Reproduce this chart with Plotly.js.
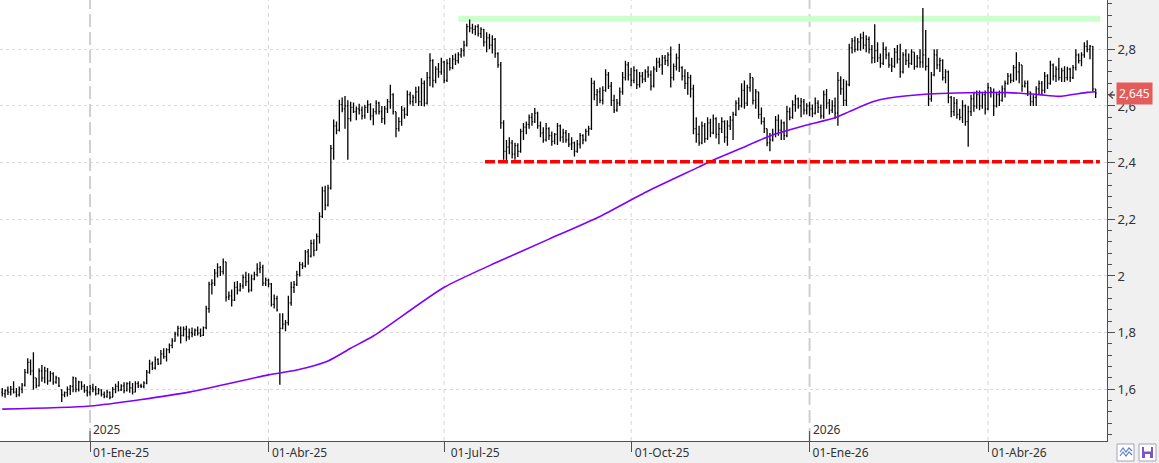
<!DOCTYPE html>
<html>
<head>
<meta charset="utf-8">
<script src="https://cdn.plot.ly/plotly-3.0.1.min.js"></script>
<style>html,body{margin:0;padding:0;background:#f0f0f0;}#chart{width:1159px;height:463px;}</style>
</head>
<body>
<div id="chart"></div>
<script>
// ---- DATA ----
const startDate = '2024-11-14';
const holidays = ['2024-12-24','2024-12-25','2024-12-26','2025-01-01','2025-04-18','2025-04-21','2025-05-01',
  '2025-12-24','2025-12-25','2025-12-26','2026-01-01','2026-04-03','2026-04-06','2026-05-01'];

const open = [
1.590,1.585,1.595,1.590,1.600,1.590,1.580,1.600,1.615,1.660,
1.695,1.665,1.640,1.612,1.665,1.640,1.665,1.630,1.655,1.625,
1.640,1.598,1.580,1.588,1.600,1.610,1.640,1.600,1.625,1.610,
1.595,1.590,1.605,1.600,1.585,1.598,1.582,1.575,1.590,1.572,
1.600,1.610,1.598,1.612,1.595,1.620,1.605,1.590,1.620,1.612,
1.610,1.622,1.660,1.690,1.675,1.705,1.690,1.725,1.715,1.740,
1.755,1.770,1.795,1.815,1.790,1.812,1.785,1.800,1.795,1.808,
1.798,1.790,1.818,1.885,1.970,1.975,2.010,2.030,2.015,2.050,
1.925,1.930,1.915,1.960,1.950,1.965,1.995,1.980,1.950,1.990,
2.005,2.025,2.030,1.975,1.985,1.972,1.900,1.920,1.800,1.815,
1.830,1.835,1.905,1.960,1.970,2.005,2.040,2.035,2.085,2.070,
2.115,2.090,2.140,2.210,2.300,2.250,2.310,2.450,2.530,2.515,
2.605,2.590,2.600,2.555,2.595,2.580,2.590,2.585,2.565,2.595,
2.605,2.565,2.580,2.610,2.580,2.555,2.590,2.615,2.640,2.580,
2.520,2.545,2.585,2.570,2.640,2.615,2.630,2.650,2.615,2.680,
2.610,2.700,2.760,2.690,2.730,2.720,2.755,2.690,2.750,2.735,
2.765,2.760,2.780,2.795,2.815,2.880,2.875,2.870,2.880,2.855,
2.870,2.825,2.840,2.815,2.835,2.785,2.745,2.540,2.440,2.455,
2.470,2.430,2.460,2.440,2.510,2.525,2.535,2.560,2.545,2.575,
2.530,2.505,2.480,2.520,2.495,2.475,2.500,2.530,2.490,2.505,
2.480,2.465,2.470,2.440,2.465,2.495,2.480,2.510,2.520,2.680,
2.640,2.650,2.620,2.655,2.710,2.670,2.620,2.585,2.610,2.650,
2.700,2.745,2.710,2.690,2.725,2.675,2.705,2.695,2.720,2.710,
2.670,2.730,2.755,2.745,2.770,2.760,2.780,2.700,2.740,2.770,
2.735,2.705,2.680,2.700,2.660,2.520,2.500,2.470,2.530,2.485,
2.540,2.505,2.555,2.500,2.520,2.545,2.490,2.530,2.550,2.570,
2.610,2.600,2.655,2.610,2.665,2.700,2.620,2.650,2.570,2.545,
2.520,2.470,2.480,2.500,2.550,2.515,2.540,2.495,2.580,2.560,
2.605,2.625,2.600,2.615,2.585,2.600,2.590,2.575,2.610,2.595,
2.565,2.640,2.610,2.585,2.600,2.575,2.690,2.660,2.620,2.675,
2.805,2.830,2.800,2.825,2.840,2.815,2.835,2.800,2.770,2.795,
2.770,2.750,2.800,2.780,2.745,2.740,2.790,2.765,2.720,2.780,
2.760,2.750,2.790,2.740,2.770,2.755,2.780,2.740,2.625,2.710,
2.780,2.745,2.760,2.700,2.720,2.630,2.580,2.610,2.570,2.560,
2.600,2.545,2.580,2.625,2.600,2.640,2.600,2.640,2.590,2.665,
2.650,2.600,2.640,2.620,2.660,2.680,2.705,2.690,2.735,2.720,
2.745,2.670,2.680,2.650,2.615,2.630,2.660,2.680,2.655,2.705,
2.680,2.745,2.705,2.730,2.700,2.725,2.700,2.730,2.700,2.735,
2.780,2.760,2.780,2.810,2.800,2.810,2.660];

const high = [
1.605,1.600,1.610,1.612,1.628,1.605,1.610,1.622,1.672,1.710,
1.705,1.731,1.640,1.674,1.686,1.680,1.675,1.665,1.660,1.648,
1.642,1.600,1.592,1.610,1.615,1.645,1.642,1.630,1.628,1.618,
1.612,1.615,1.620,1.612,1.605,1.600,1.592,1.598,1.592,1.608,
1.620,1.628,1.618,1.625,1.625,1.628,1.622,1.628,1.628,1.620,
1.628,1.668,1.704,1.698,1.716,1.710,1.739,1.745,1.745,1.762,
1.780,1.803,1.824,1.822,1.822,1.824,1.815,1.818,1.815,1.822,
1.815,1.822,1.895,1.980,1.988,2.025,2.045,2.035,2.062,2.050,
1.945,1.952,1.980,1.982,1.975,2.005,2.015,2.010,2.005,2.015,
2.045,2.050,2.040,1.995,1.990,1.975,1.935,1.930,1.868,1.868,
1.845,1.930,1.980,1.982,2.018,2.050,2.048,2.092,2.095,2.128,
2.130,2.150,2.225,2.315,2.318,2.322,2.462,2.552,2.545,2.622,
2.630,2.635,2.620,2.615,2.612,2.598,2.608,2.598,2.604,2.620,
2.610,2.592,2.620,2.615,2.600,2.600,2.625,2.675,2.645,2.580,
2.560,2.600,2.595,2.655,2.650,2.640,2.668,2.670,2.698,2.690,
2.720,2.786,2.765,2.740,2.752,2.770,2.760,2.765,2.770,2.780,
2.785,2.790,2.805,2.830,2.890,2.905,2.890,2.885,2.888,2.878,
2.872,2.860,2.855,2.850,2.840,2.790,2.755,2.550,2.480,2.490,
2.480,2.470,2.468,2.520,2.540,2.545,2.570,2.575,2.593,2.580,
2.545,2.525,2.540,2.525,2.510,2.505,2.540,2.535,2.520,2.515,
2.505,2.490,2.475,2.480,2.505,2.500,2.520,2.530,2.700,2.690,
2.660,2.665,2.670,2.730,2.720,2.685,2.640,2.625,2.665,2.720,
2.760,2.755,2.735,2.740,2.730,2.720,2.720,2.730,2.740,2.725,
2.740,2.770,2.770,2.780,2.780,2.790,2.810,2.750,2.785,2.820,
2.740,2.730,2.720,2.710,2.675,2.560,2.530,2.545,2.540,2.560,
2.555,2.570,2.560,2.540,2.560,2.550,2.550,2.565,2.580,2.620,
2.630,2.680,2.690,2.675,2.716,2.700,2.660,2.650,2.595,2.560,
2.520,2.505,2.520,2.565,2.570,2.552,2.545,2.600,2.595,2.620,
2.640,2.630,2.628,2.625,2.610,2.615,2.605,2.630,2.620,2.605,
2.655,2.660,2.625,2.620,2.630,2.720,2.705,2.695,2.690,2.820,
2.840,2.845,2.840,2.856,2.862,2.850,2.845,2.815,2.888,2.825,
2.785,2.825,2.810,2.790,2.770,2.805,2.815,2.820,2.790,2.800,
2.785,2.800,2.790,2.780,2.800,2.946,2.868,2.770,2.720,2.800,
2.800,2.770,2.765,2.730,2.725,2.635,2.632,2.625,2.590,2.620,
2.605,2.600,2.640,2.650,2.655,2.655,2.650,2.655,2.682,2.665,
2.662,2.650,2.655,2.672,2.690,2.716,2.715,2.745,2.790,2.755,
2.745,2.690,2.690,2.650,2.640,2.670,2.690,2.688,2.720,2.712,
2.760,2.750,2.740,2.770,2.735,2.740,2.738,2.735,2.745,2.800,
2.785,2.790,2.825,2.832,2.815,2.812,2.660];

const low = [
1.575,1.570,1.580,1.578,1.585,1.572,1.575,1.586,1.610,1.655,
1.650,1.598,1.604,1.610,1.627,1.621,1.616,1.627,1.616,1.620,
1.608,1.555,1.572,1.575,1.580,1.590,1.590,1.592,1.598,1.588,
1.575,1.578,1.590,1.578,1.582,1.575,1.568,1.570,1.565,1.572,
1.586,1.592,1.594,1.586,1.592,1.588,1.582,1.590,1.605,1.605,
1.604,1.618,1.655,1.668,1.670,1.686,1.688,1.708,1.698,1.727,
1.745,1.768,1.786,1.762,1.786,1.770,1.775,1.784,1.788,1.790,
1.785,1.788,1.812,1.870,1.935,1.965,1.995,2.000,2.005,1.910,
1.915,1.892,1.912,1.935,1.945,1.955,1.965,1.942,1.945,1.985,
1.998,2.010,1.965,1.965,1.960,1.892,1.885,1.875,1.616,1.812,
1.805,1.825,1.895,1.940,1.965,1.998,2.025,2.030,2.040,2.065,
2.070,2.090,2.115,2.205,2.232,2.245,2.305,2.410,2.500,2.510,
2.578,2.520,2.410,2.545,2.575,2.550,2.570,2.552,2.555,2.575,
2.550,2.532,2.570,2.570,2.540,2.535,2.575,2.590,2.570,2.490,
2.510,2.530,2.555,2.565,2.605,2.600,2.610,2.600,2.600,2.598,
2.605,2.670,2.665,2.680,2.700,2.710,2.680,2.685,2.725,2.730,
2.745,2.750,2.770,2.775,2.810,2.860,2.855,2.850,2.845,2.840,
2.810,2.790,2.800,2.785,2.770,2.735,2.520,2.410,2.408,2.430,
2.415,2.410,2.420,2.435,2.480,2.500,2.520,2.530,2.540,2.520,
2.490,2.470,2.475,2.480,2.460,2.465,2.462,2.475,2.470,2.470,
2.455,2.445,2.422,2.435,2.450,2.465,2.475,2.495,2.515,2.620,
2.600,2.610,2.605,2.650,2.660,2.600,2.575,2.580,2.600,2.640,
2.690,2.690,2.670,2.680,2.660,2.665,2.680,2.685,2.700,2.655,
2.665,2.720,2.735,2.710,2.745,2.740,2.665,2.690,2.725,2.720,
2.690,2.660,2.640,2.630,2.500,2.470,2.460,2.465,2.470,2.480,
2.490,2.500,2.485,2.465,2.505,2.470,2.460,2.515,2.480,2.565,
2.585,2.595,2.590,2.600,2.650,2.605,2.590,2.555,2.535,2.505,
2.458,2.440,2.475,2.490,2.495,2.480,2.480,2.490,2.550,2.555,
2.580,2.590,2.560,2.570,2.570,2.565,2.560,2.570,2.575,2.555,
2.555,2.590,2.570,2.575,2.555,2.530,2.640,2.600,2.600,2.670,
2.785,2.790,2.795,2.795,2.800,2.790,2.785,2.750,2.752,2.755,
2.735,2.745,2.765,2.735,2.720,2.735,2.750,2.700,2.715,2.745,
2.735,2.745,2.728,2.735,2.735,2.735,2.725,2.600,2.615,2.705,
2.730,2.720,2.690,2.680,2.610,2.560,2.565,2.555,2.550,2.540,
2.530,2.456,2.565,2.580,2.590,2.585,2.590,2.570,2.585,2.630,
2.565,2.595,2.600,2.615,2.630,2.675,2.680,2.685,2.690,2.680,
2.650,2.665,2.635,2.600,2.600,2.600,2.640,2.640,2.645,2.660,
2.675,2.690,2.685,2.690,2.685,2.685,2.690,2.685,2.695,2.725,
2.750,2.740,2.770,2.790,2.765,2.650,2.628];

const close = [
1.585,1.595,1.590,1.600,1.590,1.580,1.605,1.615,1.660,1.695,
1.665,1.640,1.612,1.665,1.640,1.665,1.630,1.655,1.625,1.640,
1.612,1.580,1.588,1.600,1.610,1.640,1.600,1.625,1.610,1.595,
1.590,1.605,1.600,1.585,1.598,1.582,1.575,1.590,1.572,1.600,
1.610,1.598,1.612,1.595,1.620,1.605,1.590,1.620,1.612,1.610,
1.622,1.660,1.690,1.675,1.705,1.690,1.725,1.715,1.740,1.755,
1.770,1.795,1.815,1.790,1.812,1.785,1.800,1.795,1.808,1.798,
1.790,1.818,1.885,1.970,1.975,2.010,2.030,2.015,2.050,1.925,
1.930,1.915,1.960,1.950,1.965,1.995,1.980,1.950,1.990,2.005,
2.025,2.030,1.975,1.985,1.972,1.900,1.920,1.880,1.815,1.830,
1.835,1.905,1.960,1.970,2.005,2.040,2.035,2.085,2.070,2.115,
2.090,2.140,2.210,2.300,2.250,2.310,2.450,2.530,2.515,2.605,
2.590,2.600,2.555,2.595,2.580,2.590,2.585,2.565,2.595,2.605,
2.565,2.580,2.610,2.580,2.555,2.590,2.615,2.640,2.580,2.520,
2.545,2.585,2.570,2.640,2.615,2.630,2.650,2.615,2.680,2.610,
2.700,2.760,2.690,2.730,2.720,2.755,2.690,2.750,2.735,2.765,
2.760,2.780,2.795,2.815,2.880,2.875,2.870,2.880,2.855,2.870,
2.825,2.840,2.815,2.835,2.785,2.745,2.540,2.440,2.455,2.470,
2.430,2.460,2.440,2.510,2.525,2.535,2.560,2.545,2.575,2.530,
2.505,2.480,2.520,2.495,2.475,2.500,2.530,2.490,2.505,2.480,
2.465,2.470,2.440,2.465,2.495,2.480,2.510,2.520,2.680,2.640,
2.650,2.620,2.655,2.710,2.670,2.620,2.585,2.610,2.650,2.700,
2.745,2.710,2.690,2.725,2.675,2.705,2.695,2.720,2.710,2.670,
2.730,2.755,2.745,2.770,2.760,2.780,2.700,2.740,2.770,2.735,
2.705,2.680,2.700,2.660,2.520,2.500,2.470,2.530,2.485,2.540,
2.505,2.555,2.500,2.520,2.545,2.490,2.530,2.550,2.570,2.610,
2.600,2.655,2.610,2.665,2.700,2.620,2.650,2.570,2.545,2.520,
2.470,2.480,2.500,2.550,2.515,2.540,2.495,2.580,2.560,2.605,
2.625,2.600,2.615,2.585,2.600,2.590,2.575,2.610,2.595,2.565,
2.640,2.610,2.585,2.600,2.575,2.690,2.660,2.620,2.675,2.805,
2.830,2.800,2.825,2.840,2.815,2.835,2.800,2.770,2.795,2.770,
2.750,2.800,2.780,2.745,2.740,2.790,2.765,2.720,2.780,2.760,
2.750,2.790,2.740,2.770,2.755,2.780,2.740,2.625,2.710,2.780,
2.745,2.760,2.700,2.720,2.630,2.580,2.610,2.570,2.560,2.600,
2.545,2.580,2.625,2.600,2.640,2.600,2.640,2.590,2.665,2.650,
2.600,2.640,2.620,2.660,2.680,2.705,2.690,2.735,2.720,2.745,
2.670,2.680,2.650,2.615,2.630,2.660,2.680,2.655,2.705,2.680,
2.745,2.705,2.730,2.700,2.725,2.700,2.730,2.700,2.735,2.780,
2.760,2.780,2.810,2.800,2.810,2.660,2.645];

// moving average read at sample bars (bar index -> value)
const maIdx = [0, 31, 66, 94, 104, 115, 123, 131, 156, 175, 193, 211, 228, 246, 252, 260, 271, 283, 294, 299, 307, 313, 327, 337, 355, 366, 373, 383, 386];
const maVal = [1.530, 1.541, 1.590, 1.651, 1.668, 1.700, 1.745, 1.788, 1.960, 2.050, 2.130, 2.210, 2.300, 2.385, 2.414, 2.447, 2.494, 2.530, 2.558, 2.580, 2.614, 2.628, 2.642, 2.646, 2.647, 2.640, 2.634, 2.648, 2.650];

const resistanceBand = [2.897, 2.918];
const resistanceSpan = ['2025-07-08', '2026-05-29 15:00'];
const supportLevel = 2.403;
const supportSpan = ['2025-07-21 10:00', '2026-05-29 12:00'];
const lastPrice = 2.645;
const lastLabel = '2,645';

const tickDates = ['2025-01-02','2025-04-01','2025-07-01','2025-10-01','2026-01-02','2026-04-01'];
const tickLabels = ['01-Ene-25','01-Abr-25','01-Jul-25','01-Oct-25','01-Ene-26','01-Abr-26'];
const yearDates = ['2025-01-02','2026-01-02'];
const yearLabels = ['2025','2026'];

// ---- trading calendar (weekdays minus market holidays) ----
function tradingDates(start, n) {
  const hol = new Set(holidays);
  const out = [];
  const d = new Date(start + 'T00:00:00Z');
  while (out.length < n) {
    const wd = d.getUTCDay();
    const s = d.toISOString().slice(0, 10);
    if (wd !== 0 && wd !== 6 && !hol.has(s)) out.push(s);
    d.setUTCDate(d.getUTCDate() + 1);
  }
  return out;
}
const dates = tradingDates(startDate, close.length);
const maDates = maIdx.map(i => dates[i]);

// ---- layout helpers (pixel -> paper) ----
const PW = 1107, PH = 441;
const px = X => X / PW;
const py = Y => (PH - Y) / PH;

const traces = [
  {
    type: 'ohlc', x: dates, open: open, high: high, low: low, close: close,
    increasing: {line: {color: '#000000', width: 1.3}},
    decreasing: {line: {color: '#000000', width: 1.3}},
    tickwidth: 0.35, hoverinfo: 'skip', showlegend: false
  },
  {
    type: 'scatter', mode: 'lines', x: maDates, y: maVal,
    line: {color: '#8000ff', width: 1.6, shape: 'spline', smoothing: 0.6},
    hoverinfo: 'skip', showlegend: false
  }
];

const shapes = [];
// vertical quarter gridlines
tickDates.forEach((d, k) => {
  const isYear = yearDates.includes(d);
  shapes.push({type: 'line', xref: 'x', yref: 'paper', x0: d, x1: d, y0: 0, y1: 1, layer: 'below',
    line: {color: isYear ? '#cfcfcf' : '#d6d6d6', width: isYear ? 2 : 1, dash: isYear ? '13px,5px' : '4px,4px'}});
});
// year ticks above axis
yearDates.forEach(d => {
  shapes.push({type: 'line', xref: 'x', yref: 'paper', x0: d, x1: d, y0: 0, y1: 10 / PH,
    line: {color: '#505050', width: 1}});
});
// resistance band
shapes.push({type: 'rect', xref: 'x', yref: 'y', x0: resistanceSpan[0], x1: resistanceSpan[1],
  y0: resistanceBand[0], y1: resistanceBand[1], fillcolor: '#ccffcc', line: {width: 0}, layer: 'below'});
// support line
shapes.push({type: 'line', xref: 'x', yref: 'y', x0: supportSpan[0], x1: supportSpan[1],
  y0: supportLevel, y1: supportLevel, line: {color: '#ff0000', width: 3.5, dash: '10px,3px'}, layer: 'above'});
// last price arrow marker
const ay = 95;
shapes.push({type: 'path', xref: 'paper', yref: 'paper',
  path: `M ${px(1113)} ${py(ay-3.5)} L ${px(1109)} ${py(ay)} L ${px(1113)} ${py(ay+3.5)} M ${px(1109)} ${py(ay)} L ${px(1115)} ${py(ay)}`,
  line: {color: '#505050', width: 1.3}});
// bottom-right icons
shapes.push({type: 'rect', xref: 'paper', yref: 'paper', x0: px(1117), x1: px(1134), y0: py(444), y1: py(461),
  fillcolor: '#ffffff', line: {color: '#a0a8b0', width: 1}});
shapes.push({type: 'path', xref: 'paper', yref: 'paper',
  path: `M ${px(1120)} ${py(452)} L ${px(1123)} ${py(448)} L ${px(1126)} ${py(452)} L ${px(1129)} ${py(448)} L ${px(1132)} ${py(451)} M ${px(1120)} ${py(456)} L ${px(1123)} ${py(452)} L ${px(1126)} ${py(456)} L ${px(1129)} ${py(452)} L ${px(1132)} ${py(455)}`,
  line: {color: '#5b7fc9', width: 1.2}});
shapes.push({type: 'rect', xref: 'paper', yref: 'paper', x0: px(1139), x1: px(1156), y0: py(444), y1: py(461),
  fillcolor: '#ffffff', line: {color: '#a0a8b0', width: 1}});
shapes.push({type: 'rect', xref: 'paper', yref: 'paper', x0: px(1142), x1: px(1153), y0: py(447), y1: py(458),
  fillcolor: '#7d55c7', line: {width: 0}});
shapes.push({type: 'rect', xref: 'paper', yref: 'paper', x0: px(1144), x1: px(1151), y0: py(447), y1: py(451.5),
  fillcolor: '#ffffff', line: {width: 0}});
shapes.push({type: 'rect', xref: 'paper', yref: 'paper', x0: px(1145), x1: px(1150), y0: py(454), y1: py(458),
  fillcolor: '#ffffff', line: {width: 0}});

const annotations = [];
yearDates.forEach((d, k) => {
  annotations.push({x: d, xref: 'x', y: 0, yref: 'paper', yanchor: 'bottom', xanchor: 'left',
    xshift: 1, yshift: 1, text: yearLabels[k], showarrow: false,
    font: {family: 'Noto Sans, sans-serif', size: 12, color: '#333333'}});
});
annotations.push({x: px(1116), xref: 'paper', y: lastPrice, yref: 'y', xanchor: 'left', yanchor: 'middle',
  text: lastLabel, showarrow: false, bgcolor: '#e35b5b', borderpad: 2,
  font: {family: 'Noto Sans, sans-serif', size: 12, color: '#ffffff'}});

const layout = {
  width: 1159, height: 463,
  margin: {l: 0, r: 52, t: 0, b: 22, pad: 0},
  paper_bgcolor: '#f0f0f0', plot_bgcolor: '#ffffff',
  separators: ',.',
  showlegend: false, hovermode: false, dragmode: false,
  font: {family: 'Noto Sans, sans-serif', size: 12, color: '#333333'},
  xaxis: {
    type: 'date',
    range: ['2024-11-13 05:00', '2026-06-03 00:00'],
    rangebreaks: [{bounds: ['sat', 'mon']}, {values: holidays}],
    rangeslider: {visible: false},
    showgrid: false, zeroline: false,
    showline: true, linecolor: '#505050', linewidth: 1,
    ticks: 'outside', ticklen: 10, tickcolor: '#505050', tickwidth: 1,
    tickmode: 'array', tickvals: tickDates, ticktext: tickLabels,
    ticklabelshift: 31, ticklabelstandoff: -9,
    tickfont: {family: 'Noto Sans, sans-serif', size: 12, color: '#333333'},
    fixedrange: true
  },
  yaxis: {
    side: 'right',
    range: [1.4175, 2.974],
    tick0: 0, dtick: 0.2,
    showgrid: true, gridcolor: '#dadada', griddash: '3px,3px', gridwidth: 1,
    zeroline: false,
    showline: true, linecolor: '#505050', linewidth: 1,
    ticks: 'outside', ticklen: 7, tickcolor: '#505050', tickwidth: 1,
    minor: {dtick: 0.04, ticks: 'outside', ticklen: 4, tickcolor: '#505050', tickwidth: 1, showgrid: false},
    tickfont: {family: 'Noto Sans, sans-serif', size: 13, color: '#333333'},
    fixedrange: true
  },
  shapes: shapes,
  annotations: annotations
};

Plotly.newPlot('chart', traces, layout, {displayModeBar: false, staticPlot: true});
</script>
</body>
</html>
